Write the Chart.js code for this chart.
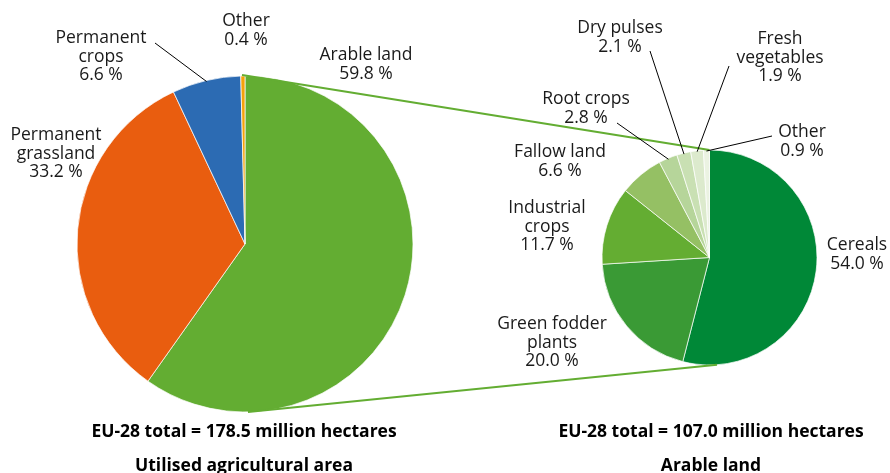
<!DOCTYPE html>
<html lang="en">
<head>
  <meta charset="UTF-8">
  <title>Utilised agricultural area and arable land</title>
  <style>
* {
  margin: 0;
  padding: 0;
  box-sizing: border-box;
}
body {
  background: #fff;
  font-family: "Open Sans", sans-serif;
}
#wrap {
  position: relative;
  width: 890px;
  height: 473px;
  overflow: hidden;
}
#wrap canvas {
  position: absolute;
  left: 0;
  top: 0;
}
  </style>
</head>
<body>
  <div id="wrap">
    <canvas id="uaaChart" width="890" height="473"></canvas>
    <canvas id="arableChart" width="890" height="473"></canvas>
  </div>
  <script src="https://cdn.jsdelivr.net/npm/chart.js@4.4.1/dist/chart.umd.min.js"></script>
  <script>
    // utilised agricultural area, EU-28 (%)
    const uaaCategories = [['Arable land'], ['Permanent', 'grassland'], ['Permanent', 'crops'], ['Other']];
    const uaaValues = [59.8, 33.2, 6.6, 0.4];
    const uaaTotal = 'EU-28 total = 178.5 million hectares';
    const uaaTitle = 'Utilised agricultural area';

    // arable land, EU-28 (%)
    const arableCategories = [['Cereals'], ['Green fodder', 'plants'], ['Industrial', 'crops'], ['Fallow land'],
      ['Root crops'], ['Dry pulses'], ['Fresh', 'vegetables'], ['Other']];
    const arableValues = [54.0, 20.0, 11.7, 6.6, 2.8, 2.1, 1.9, 0.9];
    const arableTotal = 'EU-28 total = 107.0 million hectares';
    const arableTitle = 'Arable land';

    const uaaColors = ['#63ad32', '#e95d0f', '#2c6bb3', '#f4a20b'];
    const arableColors = ['#008837', '#3a9a35', '#64ad32', '#95c064', '#b6d59a', '#c9e0b3', '#dceacd', '#ebf3e2'];

    // label placement: [centre x, first line y, leader end x, leader end y] (null = no leader)
    const uaaLabelPos = [
      [366, 55, null, null],
      [56, 135, null, null],
      [101, 38, 155, 43],
      [246, 21, null, null]
    ];
    const arableLabelPos = [
      [857, 245, null, null],
      [552, 324, null, null],
      [547, 208, null, null],
      [560, 152, null, null],
      [586, 99, 617, 123],
      [620, 28, 650, 51],
      [780, 39, 729, 66],
      [802, 132, 772, 136]
    ];

    const labelFont = '17.5px "Open Sans"';
    const boldFont = 'bold 17.5px "Open Sans"';
    const lineH = 18.7;

    function drawLabels(chart, labels, pos) {
      let ctx = chart.ctx;
      let arcs = chart.getDatasetMeta(0).data;
      let values = chart.data.datasets[0].data;
      ctx.save();
      ctx.font = labelFont;
      ctx.fillStyle = '#1a1a1a';
      ctx.textAlign = 'center';
      ctx.textBaseline = 'middle';
      for (let i = 0; i < labels.length; i++) {
        let p = pos[i];
        let lines = labels[i].concat([values[i].toFixed(1) + ' %']);
        lines.forEach((t, j) => ctx.fillText(t, p[0], p[1] + j * lineH));
        if (p[2] !== null) {
          let a = arcs[i];
          let mid = (a.startAngle + a.endAngle) / 2;
          ctx.beginPath();
          ctx.strokeStyle = '#000';
          ctx.lineWidth = 1;
          ctx.moveTo(p[2], p[3]);
          ctx.lineTo(a.x + Math.cos(mid) * (a.outerRadius - 1), a.y + Math.sin(mid) * (a.outerRadius - 1));
          ctx.stroke();
        }
      }
      ctx.restore();
    }

    function drawFooter(chart, cx, total, title) {
      let ctx = chart.ctx;
      ctx.save();
      ctx.font = boldFont;
      ctx.fillStyle = '#000';
      ctx.textAlign = 'center';
      ctx.textBaseline = 'middle';
      ctx.fillText(total, cx, 432);
      ctx.fillText(title, cx, 466);
      ctx.restore();
    }

    function pointOn(arc, deg) {
      let r = deg * Math.PI / 180;
      return [arc.x + Math.sin(r) * arc.outerRadius, arc.y - Math.cos(r) * arc.outerRadius];
    }

    let uaaChart = new Chart(document.getElementById('uaaChart'), {
      type: 'pie',
      data: {
        labels: uaaCategories,
        datasets: [{
          data: uaaValues,
          backgroundColor: uaaColors,
          borderColor: '#fff',
          borderWidth: 0.7
        }]
      },
      options: {
        responsive: false,
        animation: false,
        radius: 168,
        layout: { padding: { left: 77, right: 477, top: 76, bottom: 61 } },
        plugins: { legend: { display: false }, tooltip: { enabled: false } }
      },
      plugins: [{
        id: 'uaaText',
        afterDraw: chart => {
          drawLabels(chart, uaaCategories, uaaLabelPos);
          drawFooter(chart, 244, uaaTotal, uaaTitle);
        }
      }]
    });

    let arableChart = new Chart(document.getElementById('arableChart'), {
      type: 'pie',
      data: {
        labels: arableCategories,
        datasets: [{
          data: arableValues,
          backgroundColor: arableColors,
          borderColor: '#fff',
          borderWidth: 0.7
        }]
      },
      options: {
        responsive: false,
        animation: false,
        radius: 107.5,
        layout: { padding: { left: 602, right: 73, top: 150, bottom: 108 } },
        plugins: { legend: { display: false }, tooltip: { enabled: false } }
      },
      plugins: [{
        id: 'arableText',
        afterDraw: chart => {
          let ctx = chart.ctx;
          // connector lines from the arable slice to the breakdown pie
          let left = uaaChart.getDatasetMeta(0).data[0];
          let right = chart.getDatasetMeta(0).data[0];
          ctx.save();
          ctx.strokeStyle = '#63ad32';
          ctx.lineWidth = 2.2;
          let a = pointOn(left, 0), b = pointOn(right, 0);
          let c = pointOn(left, 179), d = pointOn(right, 176);
          ctx.beginPath();
          ctx.moveTo(a[0] - 3, a[1] - 1);
          ctx.lineTo(b[0], b[1]);
          ctx.moveTo(c[0], c[1]);
          ctx.lineTo(d[0], d[1]);
          ctx.stroke();
          ctx.restore();
          drawLabels(chart, arableCategories, arableLabelPos);
          drawFooter(chart, 711, arableTotal, arableTitle);
        }
      }]
    });
  </script>
</body>
</html>
